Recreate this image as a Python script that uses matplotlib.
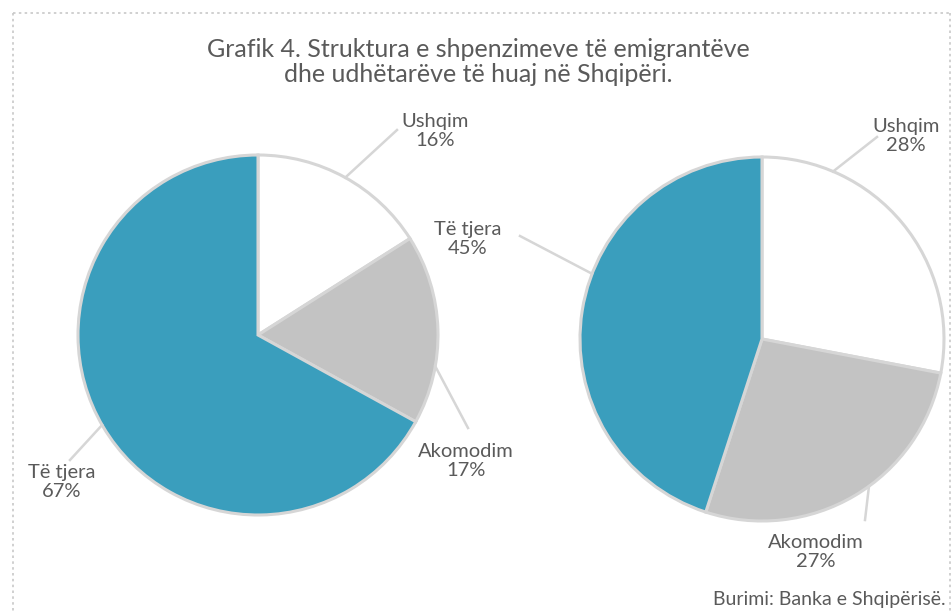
import numpy as np
import matplotlib
matplotlib.use("Agg")
import matplotlib.pyplot as plt
from matplotlib.lines import Line2D

# --- data ---
categories = ["Ushqim", "Akomodim", "Të tjera"]
shares_left = [16, 17, 67]
shares_right = [28, 27, 45]
colors = ["#ffffff", "#c3c3c3", "#3a9ebd"]

TITLE = "Grafik 4. Struktura e shpenzimeve të emigrantëve\ndhe udhëtarëve të huaj në Shqipëri."
SOURCE = "Burimi: Banka e Shqipërisë."

W, H = 953, 612
TXT = "#5a5a5a"
LINE = "#d6d6d6"

# layout in pixel space (y measured from the top)
pies = [
    # center, radius, data, [(edge angle, line end, label pos)]
    ((258, 335), 180, shares_left,
     [(61, (397, 130), (435, 131)),
      (-10, (468, 428), (466, 461)),
      (210, (70, 460), (62, 482))]),
    ((762, 339), 182, shares_right,
     [(67, (877, 137), (906, 136)),
      (-54, (865, 520), (816, 552)),
      (159, (520, 236), (468, 239))]),
]


def fy(y):
    return H - y


fig = plt.figure(figsize=(W / 100, H / 100), dpi=100)
ax = fig.add_axes([0, 0, 1, 1])

for (cx, cy), r, vals, labels in pies:
    ax.pie(vals, colors=colors, startangle=90, counterclock=False,
           center=(cx, fy(cy)), radius=r, frame=True,
           wedgeprops=dict(edgecolor=LINE, linewidth=2.2))
    for (ang, (ex, ey), (lx, ly)), cat, v in zip(labels, categories, vals):
        a = np.deg2rad(ang)
        px, py = cx + r * np.cos(a), fy(cy) + r * np.sin(a)
        ax.plot([px, ex], [py, fy(ey)], color=LINE, lw=1.8, zorder=1)
        ax.text(lx, fy(ly), f"{cat}\n{v}%", ha="center", va="center",
                fontsize=14.5, color=TXT, family="Lato", linespacing=1.1)

ax.set_xlim(0, W)
ax.set_ylim(0, H)
ax.set_aspect("equal")
ax.axis("off")

ax.text(478, fy(62), TITLE, ha="center", va="center", fontsize=18,
        color=TXT, family="Lato", linespacing=1.15)
ax.text(946, fy(600), SOURCE, ha="right", va="center", fontsize=14,
        color=TXT, family="Lato")

# dotted frame (top, left, right)
for xs, ys in [([13, 950], [13, 13]), ([13, 13], [13, 612]), ([950, 950], [13, 612])]:
    fig.add_artist(Line2D([x / W for x in xs], [1 - y / H for y in ys],
                          color="#c8c8c8", lw=1.2, ls=(0, (1.5, 2))))

fig.savefig("out.png", dpi=100)
